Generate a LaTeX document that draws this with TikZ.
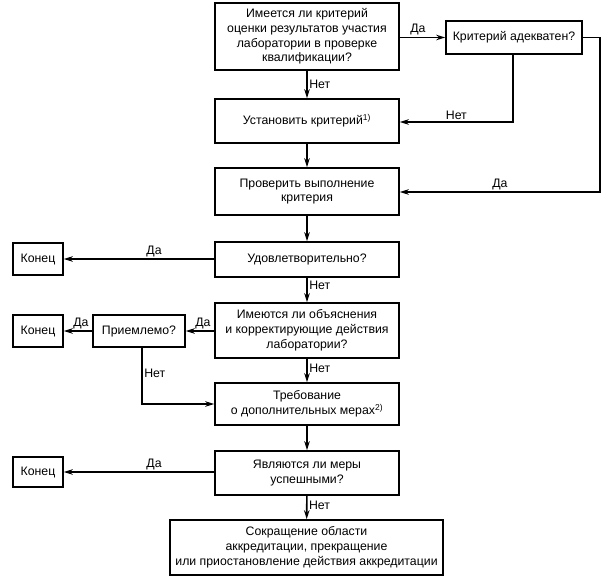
\documentclass[tikz,border=0pt]{standalone}
\usepackage{fontspec}
\setmainfont{Liberation Sans}
\usetikzlibrary{arrows.meta}
\begin{document}
\begin{tikzpicture}[x=1bp,y=-1bp,
  box/.style={draw,line width=1.6bp,align=center,inner sep=0pt,font=\fontsize{12.3bp}{14.8bp}\selectfont},
  lbl/.style={font=\fontsize{12.3bp}{14bp}\selectfont,inner sep=1.5bp},
  conn/.style={line width=1.6bp,-{Stealth[length=9bp,width=5.5bp]}}]
\useasboundingbox (0,0) rectangle (605,578);
\node[box,minimum width=184bp,minimum height=67bp] (b1) at (307,36.5) {Имеется ли критерий\\оценки результатов участия\\лаборатории в проверке\\квалификации?};
\node[box,minimum width=136bp,minimum height=33bp] (ad) at (514,37.5) {Критерий адекватен?};
\node[box,minimum width=184bp,minimum height=44bp] (b2) at (307,121) {Установить критерий\textsuperscript{\fontsize{8.5bp}{8.5bp}\selectfont 1)}};
\node[box,minimum width=184bp,minimum height=47bp] (b3) at (307,191.5) {Проверить выполнение\\критерия};
\node[box,minimum width=184bp,minimum height=35bp] (b4) at (307,259.5) {Удовлетворительно?};
\node[box,minimum width=184bp,minimum height=55bp] (b5) at (307,330.5) {Имеются ли объяснения\\и корректирующие действия\\лаборатории?};
\node[box,minimum width=184bp,minimum height=42bp] (b6) at (307,404) {Требование\\о дополнительных мерах\textsuperscript{\fontsize{8.5bp}{8.5bp}\selectfont 2)}};
\node[box,minimum width=184bp,minimum height=44bp] (b7) at (307,473) {Являются ли меры\\успешными?};
\node[box,minimum width=273bp,minimum height=55bp] (b8) at (306.5,547.5) {Сокращение области\\аккредитации, прекращение\\или приостановление действия аккредитации};
\node[box,minimum width=50bp,minimum height=32bp] (e1) at (38,259) {Конец};
\node[box,minimum width=92bp,minimum height=32bp] (pr) at (139,331) {Приемлемо?};
\node[box,minimum width=50bp,minimum height=32bp] (e2) at (38,331) {Конец};
\node[box,minimum width=50bp,minimum height=30bp] (e3) at (38,472) {Конец};
\coordinate (c1) at (513,122);
\coordinate (c2) at (600,37.5);
\coordinate (c3) at (600,192);
\coordinate (c4) at (142,404);
% main column
\draw[conn] (b1) -- node[lbl,right,pos=0.5]{Нет} (b2);
\draw[conn] (b2) -- (b3);
\draw[conn] (b3) -- (b4);
\draw[conn] (b4) -- node[lbl,right,pos=0.3]{Нет} (b5);
\draw[conn] (b5) -- node[lbl,right,pos=0.4]{Нет} (b6);
\draw[conn] (b6) -- (b7);
\draw[conn] (b7) -- node[lbl,right,pos=0.4]{Нет} (b8);
% right side
\draw[conn] (b1.east |- ad.west) -- node[lbl,above,pos=0.4]{Да} (ad.west);
\draw[conn] (ad.south -| c1) -- (c1) -- node[lbl,above,pos=0.5]{Нет} (c1 -| b2.east);
\draw[conn] (ad.east) -- (c2) -- (c3) -- node[lbl,above,pos=0.5]{Да} (c3 -| b3.east);
% left side
\draw[conn] (b4.west |- e1.east) -- node[lbl,above,pos=0.4]{Да} (e1.east);
\draw[conn] (b5.west |- pr.east) -- node[lbl,above,pos=0.4]{Да} (pr.east);
\draw[conn] (pr.west) -- node[lbl,above,pos=0.4]{Да} (e2.east);
\draw[conn] (pr.south -| c4) -- node[lbl,right,pos=0.45]{Нет} (c4) -- (c4 -| b6.west);
\draw[conn] (b7.west |- e3.east) -- node[lbl,above,pos=0.4]{Да} (e3.east);
\end{tikzpicture}
\end{document}
